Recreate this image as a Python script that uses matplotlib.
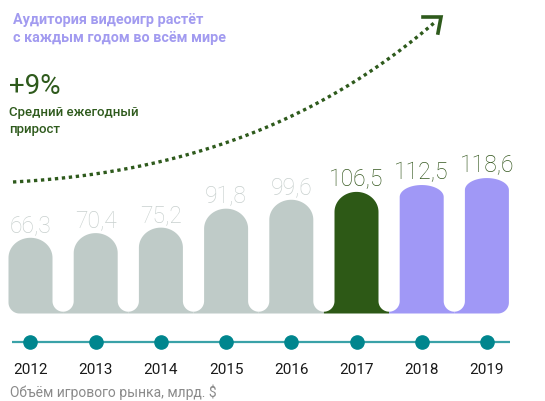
import numpy as np
import matplotlib.pyplot as plt
from matplotlib.path import Path
from matplotlib.patches import PathPatch
from matplotlib.transforms import Affine2D

years = ['2012', '2013', '2014', '2015', '2016', '2017', '2018', '2019']
values = [66.3, 70.4, 75.2, 91.8, 99.6, 106.5, 112.5, 118.6]
value_labels = ['66,3', '70,4', '75,2', '91,8', '99,6', '106,5', '112,5', '118,6']
kinds = ['past', 'past', 'past', 'past', 'past', 'now', 'fc', 'fc']

title = 'Аудитория видеоигр растёт\nс каждым годом во всём мире'
growth = '+9%'
growth_note = 'Средний ежегодный\nприрост'
footnote = 'Объём игрового рынка, млрд. $'

bar_col = {'past': '#bfcbc8', 'now': '#2d5916', 'fc': '#a098f6'}
lab_col = {'past': '#c8d0ce', 'now': '#35581f', 'fc': '#35581f'}
dark_green = '#2e5a1c'

plt.rcParams['font.family'] = ['Roboto', 'DejaVu Sans']

W, H = 545, 401
fig = plt.figure(figsize=(W / 100, H / 100), dpi=100)
ax = fig.add_axes([0, 0, 1, 1])
ax.axis('off')

# pixel geometry of the value axis
x0px, step = 30.5, 65.2
base_px, sy = 313.5, 1.142
ax.set_xlim(-x0px / step, (W - x0px) / step)
ax.set_ylim(-(H - base_px) / sy, base_px / sy)

px = Affine2D().scale(1 / W, -1 / H).translate(0, 1) + fig.transFigure


def yv(p):
    return -(p - base_px) / sy


hw = 22 / step           # half bar width
g2 = 0.5 - hw            # half gap
gy = g2 * step / sy      # gap radius in value units
t = 1.8 / sy             # base strip
rc_x, rc_y = 11 / step, 11 / sy


def arc(cx, cy, rx, ry, a0, a1, n=24):
    a = np.linspace(a0, a1, n)
    return list(zip(cx + rx * np.cos(a), cy + ry * np.sin(a)))


def bar_path(i, v, ry, first, last):
    c = i
    pts = []
    if first:
        pts.append((c - hw + rc_x, 0))
        pts += arc(c - hw + rc_x, rc_y, rc_x, rc_y, -np.pi / 2, -np.pi)
    else:
        pts.append((c - 0.5, 0))
        pts.append((c - 0.5, t))
        pts += arc(c - 0.5, t + gy, g2, gy, -np.pi / 2, 0)
    pts.append((c - hw, v - ry))
    pts += arc(c, v - ry, hw, ry, np.pi, 0, 40)
    if last:
        pts += arc(c + hw - rc_x, rc_y, rc_x, rc_y, 0, -np.pi / 2)
    else:
        pts += arc(c + 0.5, t + gy, g2, gy, np.pi, 3 * np.pi / 2)
        pts.append((c + 0.5, 0))
    pts.append(pts[0])
    return Path(pts)


n = len(values)
for i, (v, k) in enumerate(zip(values, kinds)):
    ry = (12 if k == 'fc' else 20) / sy
    p = bar_path(i, v, ry, i == 0, i == n - 1)
    ax.add_patch(PathPatch(p, facecolor=bar_col[k], edgecolor='none'))
    ax.text(i, v + 6 / sy, value_labels[i], ha='center', va='baseline',
            fontsize=16.5, fontweight='light', color=lab_col[k])

# timeline
ty = yv(342)
ax.plot([-18.5 / step, (510 - x0px) / step], [ty, ty], color='#3aa2a8', lw=1.6,
        solid_capstyle='butt', zorder=2)
ax.plot(range(n), [ty] * n, 'o', ms=9.5, color='#00868e', zorder=3)
for i, y in enumerate(years):
    ax.text(i, yv(370), y, ha='center', va='center', fontsize=11,
            color='#1a1a1a')

# dotted growth arrow
tt = np.linspace(0, 1, 200)
P = np.array([(13, 182), (200, 172), (330, 112), (434, 23)])
bx = ((1 - tt) ** 3 * P[0, 0] + 3 * (1 - tt) ** 2 * tt * P[1, 0]
      + 3 * (1 - tt) * tt ** 2 * P[2, 0] + tt ** 3 * P[3, 0])
by = ((1 - tt) ** 3 * P[0, 1] + 3 * (1 - tt) ** 2 * tt * P[1, 1]
      + 3 * (1 - tt) * tt ** 2 * P[2, 1] + tt ** 3 * P[3, 1])
ax.plot(bx, by, transform=px, color=dark_green, lw=2.4, dashes=(1, 1.1),
        dash_capstyle='butt')
ax.plot([423, 441, 438], [17, 17, 33], transform=px, color=dark_green, lw=2.6,
        solid_joinstyle='miter')

fig.text(13 / W, 1 - 29 / H, title, ha='left', va='center', fontsize=10.4,
         fontweight='bold', color='#a29bf0', linespacing=1.3)
fig.text(9 / W, 1 - 86 / H, growth, ha='left', va='center', fontsize=20,
         color=dark_green)
fig.text(9 / W, 1 - 121 / H, growth_note, ha='left', va='center', fontsize=9.5,
         fontweight='medium', color=dark_green, linespacing=1.4)
fig.text(10 / W, 1 - 392 / H, footnote, ha='left', va='center', fontsize=10,
         color='#8a8a8a')

fig.savefig('out.png', dpi=100)
